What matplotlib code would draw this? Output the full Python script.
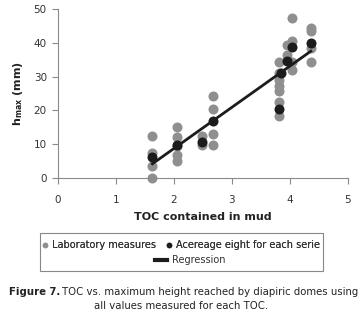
import matplotlib.pyplot as plt
from matplotlib.patches import Rectangle
from matplotlib.lines import Line2D
import numpy as np

# =====================================================
# DATA
# =====================================================

lab_toc = [1.63, 1.63, 1.63, 1.63,
           2.05, 2.05, 2.05, 2.05, 2.05,
           2.49, 2.49,
           2.68, 2.68, 2.68, 2.68,
           3.82, 3.82, 3.82, 3.82, 3.82, 3.82, 3.82,
           3.95, 3.95,
           4.03, 4.03, 4.03, 4.03,
           4.36, 4.36, 4.36, 4.36]
lab_h = [12.5, 7.4, 3.4, 0.0,
         15.2, 12.1, 9.4, 6.9, 4.9,
         12.3, 9.6,
         24.3, 20.4, 13.1, 9.8,
         18.4, 22.4, 25.6, 27.3, 29.0, 31.0, 34.2,
         36.4, 39.4,
         47.2, 40.4, 34.4, 32.0,
         44.3, 43.6, 38.4, 34.4]

avg_toc = [1.63, 2.05, 2.49, 2.68, 3.82, 3.84, 3.95, 4.03, 4.36]
avg_h = [6.2, 9.6, 10.6, 16.7, 20.5, 31.0, 34.6, 38.6, 39.9]

reg_slope = 12.2
reg_intercept = -15.7
reg_range = [1.63, 4.36]

x_ticks = [0, 1, 2, 3, 4, 5]
y_ticks = [0, 10, 20, 30, 40, 50]

GRAY = "#8f8f8f"
BLACK = "#1c1c1c"
AXIS = "#8a8a8a"

plt.rcParams["font.family"] = ["DejaVu Sans"]

# =====================================================
# FIGURE
# =====================================================

fig = plt.figure(figsize=(3.62, 3.2), dpi=100)
ax = fig.add_axes([0.160, 0.444, 0.801, 0.528])

ax.scatter(lab_toc, lab_h, s=52, color=GRAY, zorder=2, clip_on=False, linewidths=0)
ax.scatter(avg_toc, avg_h, s=52, color=BLACK, zorder=3, clip_on=False, linewidths=0)

reg_x = np.array(reg_range)
ax.plot(reg_x, reg_slope * reg_x + reg_intercept, color=BLACK, lw=2.0, zorder=4)

ax.set_xlim(0, 5)
ax.set_ylim(0, 50)
ax.set_xticks(x_ticks)
ax.set_yticks(y_ticks)

for side in ["top", "right"]:
    ax.spines[side].set_visible(False)
for side in ["left", "bottom"]:
    ax.spines[side].set_color(AXIS)
    ax.spines[side].set_linewidth(0.8)

ax.tick_params(axis="both", direction="out", length=4, width=0.8,
               color=AXIS, labelsize=7.5, labelcolor="#333333")
ax.tick_params(axis="x", pad=8)
ax.tick_params(axis="y", pad=4)

ax.set_xlabel("TOC contained in mud", fontsize=8, fontweight="bold",
              color="#222222", labelpad=5)
ax.set_ylabel(r"h$_{\mathbf{max}}$ (mm)", fontsize=8, fontweight="bold",
              color="#222222", labelpad=6)

# =====================================================
# LEGEND (framed box, two rows)
# =====================================================

fig.patches.append(Rectangle((40 / 362, 1 - 271 / 320), 283 / 362, 38 / 320,
                             transform=fig.transFigure, fill=False,
                             edgecolor="#888888", linewidth=0.8))

h_lab = Line2D([], [], marker="o", ls="none", color=GRAY, markersize=3)
h_avg = Line2D([], [], marker="o", ls="none", color=BLACK, markersize=3)
h_reg = Line2D([], [], color=BLACK, lw=3)

leg1 = fig.legend([h_lab, h_avg], ["Laboratory measures", "Acereage eight for each serie"],
                  loc="center", bbox_to_anchor=(181 / 362, 1 - 245 / 320), ncol=2,
                  frameon=False, fontsize=7, handlelength=0.6, handletextpad=0.4,
                  columnspacing=1.0, labelcolor="#333333")
fig.add_artist(leg1)
fig.legend([h_reg], ["Regression"], loc="center",
           bbox_to_anchor=(190 / 362, 1 - 260 / 320), frameon=False, fontsize=7,
           handlelength=1.2, handletextpad=0.5, labelcolor="#333333")

# =====================================================
# CAPTION
# =====================================================

fig.canvas.draw()
renderer = fig.canvas.get_renderer()

bold = fig.text(9 / 362, 1 - 292 / 320, "Figure 7.", fontsize=7.3,
                fontweight="bold", color="#222222", va="center", ha="left")
bb = bold.get_window_extent(renderer)
fig.text((bb.x1 + 2) / fig.bbox.width, 1 - 292 / 320,
         "TOC vs. maximum height reached by diapiric domes using",
         fontsize=7.3, color="#222222", va="center", ha="left")
fig.text(181 / 362, 1 - 306 / 320, "all values measured for each TOC.",
         fontsize=7.3, color="#222222", va="center", ha="center")

fig.savefig("out.png", dpi=100)
